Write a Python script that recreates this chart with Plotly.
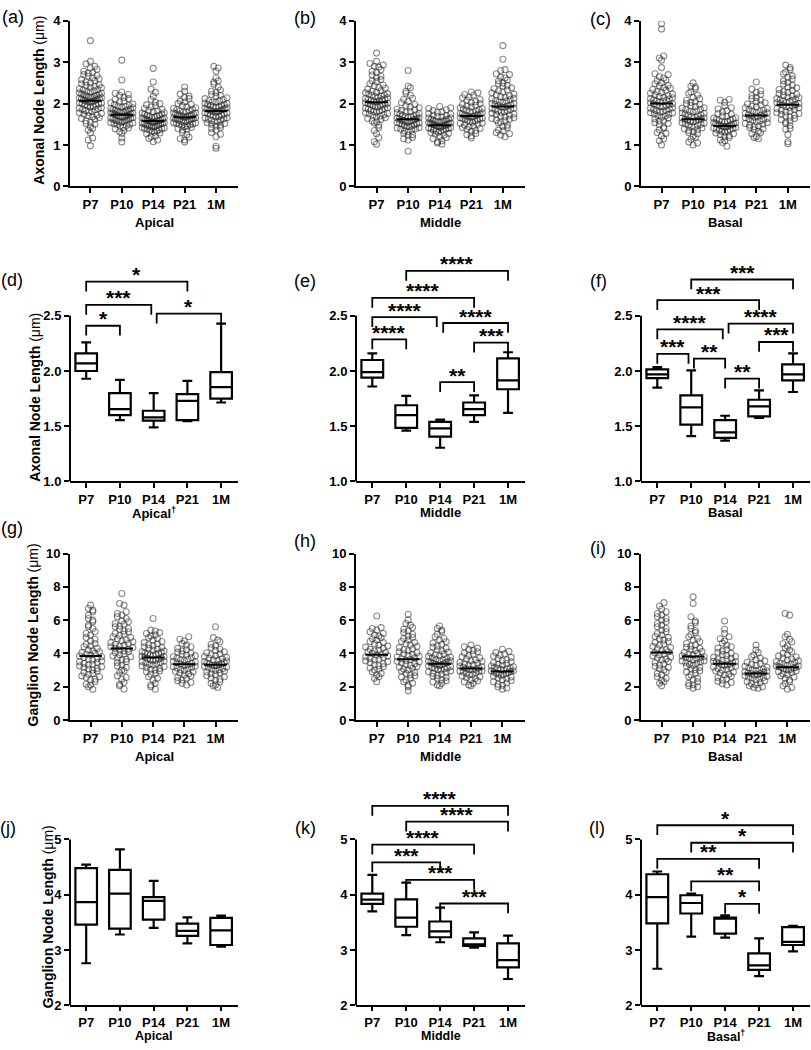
import plotly.graph_objects as go

W, H = 811, 1050
CATS = ["P7", "P10", "P14", "P21", "1M"]

# ---------------- Row 1: axonal node length, individual nodes (um) ----------------
ax_apical = [
    [0.98,1.12,1.17,1.29,1.36,1.44,1.50,1.55,1.58,1.62,1.66,1.68,1.71,1.74,1.76,1.79,1.81,1.83,1.86,1.88,
     1.90,1.92,1.95,1.97,1.99,2.01,2.03,2.04,2.06,2.08,2.09,2.11,2.13,2.15,2.17,2.19,2.21,2.23,2.26,2.28,
     2.31,2.34,2.36,2.39,2.42,2.45,2.48,2.52,2.55,2.58,2.62,2.66,2.70,2.74,2.78,2.83,2.90,2.96,3.02,3.52,
     1.64,1.72,1.78,1.85,1.89,1.93,1.96,2.00,2.02,2.05,2.07,2.10,2.12,2.14,2.16,2.18,2.20,2.22,2.25,2.29,
     2.33,2.38,2.44,2.50,2.60,2.68,2.75,1.40,1.52,2.86],
    [1.07,1.17,1.28,1.35,1.39,1.43,1.46,1.49,1.52,1.54,1.56,1.58,1.60,1.62,1.63,1.65,1.66,1.68,1.69,1.71,
     1.72,1.74,1.75,1.77,1.78,1.80,1.82,1.84,1.86,1.88,1.90,1.93,1.96,1.99,2.02,2.06,2.10,2.15,2.20,2.25,
     2.28,2.57,3.05,
     1.41,1.47,1.50,1.53,1.55,1.57,1.59,1.61,1.64,1.67,1.70,1.73,1.76,1.79,1.81,1.83,1.85,1.87,1.91,1.94,
     1.98,2.04,2.12,1.32,2.22],
    [1.08,1.12,1.16,1.22,1.27,1.31,1.34,1.37,1.40,1.42,1.44,1.46,1.48,1.49,1.51,1.52,1.54,1.55,1.56,1.58,
     1.59,1.60,1.62,1.63,1.65,1.66,1.68,1.70,1.72,1.74,1.77,1.80,1.84,1.88,1.92,1.97,2.03,2.10,2.18,2.27,
     2.35,2.52,2.85,
     1.20,1.29,1.33,1.36,1.39,1.41,1.43,1.45,1.47,1.50,1.53,1.55,1.57,1.59,1.61,1.64,1.67,1.69,1.71,1.75,
     1.78,1.82,1.86,1.95,2.00,1.38,1.51],
    [1.07,1.15,1.19,1.30,1.36,1.40,1.44,1.47,1.50,1.52,1.54,1.56,1.58,1.60,1.61,1.63,1.64,1.66,1.67,1.69,
     1.70,1.72,1.74,1.76,1.78,1.80,1.83,1.86,1.90,1.95,2.00,2.06,2.12,2.18,2.23,2.30,2.40,
     1.25,1.38,1.42,1.46,1.49,1.51,1.53,1.55,1.57,1.59,1.62,1.65,1.68,1.71,1.73,1.75,1.77,1.79,1.82,1.85,
     1.88,1.92,1.98,2.04,2.15,1.12],
    [0.92,0.97,1.20,1.30,1.36,1.42,1.46,1.50,1.54,1.57,1.60,1.63,1.66,1.69,1.72,1.74,1.77,1.79,1.81,1.83,
     1.85,1.87,1.89,1.91,1.93,1.96,1.98,2.01,2.04,2.07,2.10,2.14,2.18,2.22,2.27,2.33,2.40,2.47,2.55,2.62,
     2.78,2.86,2.90,
     1.40,1.48,1.52,1.56,1.59,1.62,1.65,1.68,1.71,1.73,1.76,1.78,1.80,1.82,1.84,1.86,1.88,1.90,1.92,1.95,
     1.97,2.00,2.03,2.06,2.12,2.20,2.30,2.52,1.26],
]
ax_middle = [
    [1.02,1.08,1.18,1.27,1.35,1.42,1.48,1.53,1.58,1.62,1.66,1.70,1.73,1.76,1.79,1.82,1.85,1.88,1.90,1.93,
     1.95,1.98,2.00,2.02,2.05,2.07,2.10,2.12,2.15,2.18,2.21,2.24,2.27,2.31,2.35,2.39,2.43,2.48,2.53,2.58,
     2.63,2.69,2.75,2.82,2.88,2.93,2.97,3.02,3.22,
     1.56,1.64,1.68,1.72,1.75,1.78,1.81,1.84,1.87,1.89,1.92,1.94,1.97,1.99,2.01,2.04,2.06,2.09,2.11,2.14,
     2.17,2.20,2.23,2.26,2.30,2.37,2.45,2.55,2.66,2.78,2.90],
    [0.85,1.12,1.18,1.23,1.28,1.32,1.36,1.39,1.42,1.45,1.47,1.50,1.52,1.54,1.56,1.58,1.60,1.62,1.64,1.66,
     1.68,1.70,1.73,1.76,1.79,1.83,1.87,1.92,1.98,2.05,2.13,2.20,2.30,2.38,2.42,2.80,
     1.25,1.34,1.38,1.41,1.44,1.46,1.49,1.51,1.53,1.55,1.57,1.59,1.61,1.63,1.65,1.67,1.69,1.72,1.75,1.78,
     1.81,1.85,1.90,1.95,2.02,2.10,1.15,2.25],
    [1.02,1.05,1.10,1.15,1.20,1.24,1.28,1.31,1.34,1.37,1.39,1.41,1.43,1.45,1.47,1.48,1.50,1.52,1.53,1.55,
     1.57,1.59,1.61,1.63,1.66,1.69,1.72,1.76,1.80,1.85,1.90,1.93,
     1.08,1.18,1.26,1.30,1.33,1.36,1.38,1.40,1.42,1.44,1.46,1.47,1.49,1.51,1.52,1.54,1.56,1.58,1.60,1.62,
     1.65,1.68,1.71,1.75,1.79,1.83,1.88],
    [1.17,1.22,1.28,1.33,1.38,1.42,1.46,1.50,1.53,1.56,1.59,1.62,1.64,1.66,1.68,1.70,1.72,1.74,1.76,1.79,
     1.82,1.85,1.88,1.92,1.96,2.00,2.05,2.10,2.16,2.22,2.28,
     1.25,1.35,1.40,1.44,1.48,1.52,1.55,1.58,1.61,1.63,1.65,1.67,1.69,1.71,1.73,1.75,1.78,1.81,1.84,1.87,
     1.90,1.94,1.98,2.03,2.08,2.14,2.20,2.26],
    [1.20,1.24,1.30,1.36,1.42,1.48,1.53,1.58,1.62,1.66,1.70,1.74,1.77,1.80,1.83,1.86,1.89,1.92,1.95,1.98,
     2.01,2.04,2.07,2.11,2.15,2.19,2.23,2.28,2.33,2.38,2.44,2.50,2.57,2.64,2.72,2.82,3.07,3.40,
     1.27,1.34,1.45,1.55,1.60,1.64,1.68,1.72,1.75,1.79,1.82,1.85,1.88,1.91,1.94,1.97,2.00,2.03,2.06,2.09,
     2.13,2.17,2.21,2.26,2.31,2.36,2.42,2.48,2.55,2.62,2.70,2.80],
]
ax_basal = [
    [1.00,1.10,1.15,1.22,1.30,1.37,1.43,1.49,1.54,1.59,1.63,1.67,1.71,1.75,1.78,1.81,1.84,1.87,1.90,1.93,
     1.96,1.99,2.02,2.05,2.08,2.11,2.14,2.17,2.21,2.25,2.29,2.34,2.39,2.44,2.50,2.57,2.65,2.72,2.87,3.05,
     3.10,3.15,3.80,3.93,
     1.40,1.52,1.58,1.65,1.70,1.74,1.77,1.80,1.83,1.86,1.89,1.92,1.95,1.98,2.00,2.03,2.06,2.09,2.12,2.15,
     2.19,2.23,2.27,2.32,2.37,2.43,2.48,2.55,2.62,2.70,1.28],
    [1.00,1.07,1.14,1.21,1.27,1.32,1.37,1.41,1.45,1.48,1.51,1.54,1.57,1.60,1.62,1.65,1.67,1.70,1.73,1.76,
     1.79,1.82,1.86,1.90,1.95,2.00,2.05,2.12,2.20,2.28,2.36,2.42,2.50,
     1.05,1.18,1.30,1.35,1.39,1.43,1.47,1.50,1.53,1.56,1.59,1.61,1.63,1.66,1.69,1.72,1.75,1.78,1.81,1.85,
     1.89,1.93,1.98,2.03,2.08,2.15,2.25,2.40],
    [0.97,1.06,1.12,1.18,1.23,1.27,1.31,1.34,1.37,1.40,1.42,1.44,1.46,1.48,1.50,1.52,1.54,1.56,1.59,1.62,
     1.65,1.69,1.74,1.80,1.87,1.95,2.03,2.10,
     1.10,1.20,1.25,1.29,1.33,1.36,1.38,1.41,1.43,1.45,1.47,1.49,1.51,1.53,1.55,1.57,1.60,1.63,1.66,1.70,
     1.76,1.83,1.90,2.08],
    [1.15,1.20,1.27,1.33,1.39,1.44,1.48,1.52,1.56,1.60,1.63,1.66,1.69,1.72,1.75,1.78,1.81,1.84,1.88,1.92,
     1.97,2.02,2.08,2.15,2.22,2.31,2.52,
     1.18,1.30,1.37,1.42,1.46,1.50,1.54,1.58,1.61,1.64,1.67,1.70,1.73,1.76,1.79,1.82,1.86,1.90,1.94,1.99,
     2.05,2.12,2.19,2.27,2.35],
    [1.03,1.08,1.25,1.38,1.47,1.55,1.61,1.67,1.72,1.76,1.80,1.84,1.88,1.91,1.94,1.97,2.00,2.03,2.06,2.09,
     2.12,2.16,2.20,2.24,2.29,2.34,2.40,2.47,2.55,2.63,2.72,2.82,2.93,
     1.40,1.52,1.58,1.64,1.70,1.74,1.78,1.82,1.86,1.90,1.93,1.96,1.99,2.02,2.05,2.08,2.11,2.14,2.18,2.22,
     2.27,2.32,2.38,2.44,2.51,2.59,2.67,2.76,2.87],
]
ax_apical_mean = [2.07, 1.73, 1.58, 1.67, 1.82]
ax_middle_mean = [2.03, 1.62, 1.48, 1.70, 1.93]
ax_basal_mean = [2.00, 1.62, 1.46, 1.71, 1.97]

# ---------------- Row 3: ganglion node length, individual nodes (um) ----------------
gn_apical = [
    [1.85,2.00,2.15,2.30,2.45,2.55,2.65,2.75,2.85,2.95,3.05,3.15,3.25,3.35,3.45,3.55,3.65,3.75,3.85,3.95,
     4.05,4.15,4.30,4.45,4.60,4.75,4.95,5.10,5.30,5.50,5.70,5.90,6.10,6.30,6.50,6.70,6.90,
     2.10,2.40,2.60,2.80,3.00,3.10,3.20,3.30,3.40,3.50,3.60,3.70,3.80,3.90,4.00,4.10,4.20,4.40,4.55,4.85,
     5.20,5.60,6.00,6.60],
    [1.85,2.05,2.25,2.45,2.65,2.85,3.00,3.15,3.30,3.45,3.60,3.72,3.85,3.97,4.10,4.20,4.30,4.40,4.50,4.60,
     4.70,4.82,4.95,5.08,5.20,5.35,5.50,5.65,5.80,5.95,6.10,6.30,6.50,6.90,7.00,7.60,
     2.15,2.55,2.95,3.25,3.50,3.65,3.80,3.92,4.05,4.15,4.25,4.35,4.45,4.55,4.65,4.75,4.88,5.00,5.15,5.30,
     5.45,5.60,5.75,5.90,6.20,6.40],
    [1.85,2.00,2.20,2.40,2.60,2.75,2.90,3.00,3.10,3.20,3.30,3.38,3.46,3.54,3.62,3.70,3.78,3.86,3.94,4.02,
     4.10,4.20,4.30,4.40,4.52,4.65,4.80,4.95,5.10,5.25,5.40,6.10,
     2.10,2.50,2.80,2.95,3.05,3.15,3.25,3.34,3.42,3.50,3.58,3.66,3.74,3.82,3.90,3.98,4.06,4.14,4.25,4.35,
     4.46,4.58,4.72,4.88,5.05,5.20,5.35,3.60,3.80,4.00],
    [2.10,2.25,2.40,2.55,2.70,2.82,2.93,3.03,3.12,3.20,3.28,3.36,3.44,3.52,3.60,3.70,3.80,3.90,4.02,4.15,
     4.30,4.50,4.75,5.00,
     2.20,2.35,2.50,2.65,2.78,2.88,2.98,3.08,3.16,3.24,3.32,3.40,3.48,3.56,3.65,3.75,3.85,3.96,4.08,4.22,
     4.40,4.60,4.85],
    [1.95,2.10,2.30,2.45,2.60,2.72,2.83,2.93,3.02,3.10,3.18,3.26,3.34,3.42,3.50,3.58,3.67,3.76,3.86,3.97,
     4.10,4.25,4.45,4.70,4.95,5.60,
     2.05,2.20,2.38,2.52,2.66,2.78,2.88,2.98,3.06,3.14,3.22,3.30,3.38,3.46,3.54,3.62,3.71,3.81,3.92,4.04,
     4.18,4.35,4.55,4.80,3.28,3.36],
]
gn_middle = [
    [2.30,2.50,2.70,2.90,3.05,3.20,3.32,3.44,3.55,3.65,3.75,3.85,3.95,4.05,4.15,4.25,4.38,4.50,4.65,4.80,
     4.95,5.10,5.30,5.50,5.55,6.25,
     2.60,2.80,3.00,3.12,3.26,3.38,3.50,3.60,3.70,3.80,3.90,4.00,4.10,4.20,4.32,4.44,4.58,4.72,4.88,5.05,
     5.20,5.40],
    [1.75,2.10,2.30,2.50,2.65,2.80,2.93,3.05,3.17,3.28,3.38,3.48,3.58,3.68,3.78,3.88,3.98,4.10,4.22,4.35,
     4.50,4.65,4.80,4.97,5.15,5.35,5.55,5.80,6.00,6.35,
     2.00,2.20,2.40,2.58,2.72,2.86,3.00,3.11,3.22,3.33,3.43,3.53,3.63,3.73,3.83,3.93,4.04,4.16,4.28,4.42,
     4.58,4.72,4.90,5.05,5.25,5.45,5.70],
    [2.05,2.20,2.35,2.50,2.62,2.74,2.85,2.95,3.04,3.12,3.20,3.28,3.35,3.42,3.50,3.57,3.65,3.73,3.82,3.92,
     4.03,4.15,4.30,4.45,4.62,4.80,5.00,5.30,5.50,5.65,
     2.10,2.28,2.42,2.56,2.68,2.80,2.90,3.00,3.08,3.16,3.24,3.31,3.38,3.46,3.53,3.61,3.69,3.77,3.86,3.96,
     4.08,4.22,4.38,4.55,4.70,4.90,5.15,5.40,3.10,3.30,3.45,3.55],
    [2.05,2.20,2.35,2.48,2.60,2.70,2.80,2.88,2.96,3.04,3.12,3.20,3.28,3.37,3.46,3.56,3.67,3.80,3.95,4.10,
     4.25,4.40,4.50,
     2.10,2.28,2.42,2.54,2.65,2.75,2.84,2.92,3.00,3.08,3.16,3.24,3.32,3.41,3.51,3.61,3.73,3.87,4.02,4.18,
     4.32,2.95,3.05],
    [1.85,2.00,2.15,2.30,2.42,2.53,2.63,2.72,2.80,2.88,2.96,3.04,3.12,3.20,3.29,3.39,3.50,3.62,3.76,3.90,
     4.05,4.25,
     1.92,2.08,2.22,2.36,2.48,2.58,2.68,2.76,2.84,2.92,3.00,3.08,3.16,3.24,3.34,3.44,3.56,3.69,3.83,3.97,
     4.12,2.80,2.95,3.10],
]
gn_basal = [
    [2.05,2.20,2.40,2.60,2.80,3.00,3.15,3.30,3.45,3.60,3.72,3.85,3.97,4.10,4.22,4.35,4.50,4.65,4.80,4.95,
     5.10,5.30,5.50,5.70,5.90,6.10,6.30,6.50,6.85,7.05,
     2.30,2.50,2.70,2.90,3.08,3.22,3.38,3.52,3.66,3.78,3.91,4.03,4.16,4.28,4.42,4.57,4.72,4.88,5.02,5.20,
     5.40,5.60,5.80,6.00,6.20,6.40,6.65],
    [1.90,2.05,2.20,2.40,2.60,2.80,2.95,3.10,3.22,3.34,3.45,3.55,3.65,3.75,3.85,3.95,4.05,4.17,4.30,4.45,
     4.60,4.80,5.00,5.25,5.50,5.85,6.20,7.00,7.40,
     2.00,2.12,2.30,2.50,2.70,2.88,3.02,3.16,3.28,3.40,3.50,3.60,3.70,3.80,3.90,4.00,4.11,4.23,4.37,4.52,
     4.70,4.90,5.12,5.38,5.65,5.95,3.55,3.75],
    [2.10,2.25,2.40,2.55,2.70,2.82,2.94,3.04,3.14,3.23,3.32,3.40,3.48,3.57,3.66,3.76,3.87,4.00,4.15,4.32,
     4.50,4.75,5.00,5.45,5.95,
     2.18,2.32,2.48,2.62,2.76,2.88,2.99,3.09,3.19,3.28,3.36,3.44,3.53,3.62,3.71,3.81,3.93,4.07,4.23,4.40,
     4.62,4.88,5.20,3.30,3.50],
    [1.90,2.00,2.12,2.24,2.36,2.47,2.57,2.66,2.74,2.82,2.90,2.98,3.07,3.17,3.28,3.40,3.55,3.70,3.90,4.20,
     4.50,
     1.95,2.06,2.18,2.30,2.42,2.52,2.62,2.70,2.78,2.86,2.94,3.02,3.12,3.22,3.34,3.47,3.62,3.80,4.05,2.55,
     2.80,3.00],
    [1.85,2.05,2.30,2.50,2.65,2.78,2.90,3.00,3.08,3.16,3.24,3.32,3.40,3.50,3.60,3.72,3.85,4.00,4.20,4.45,
     4.70,5.00,5.15,6.30,6.40,
     1.95,2.20,2.40,2.58,2.72,2.84,2.95,3.04,3.12,3.20,3.28,3.36,3.45,3.55,3.66,3.78,3.92,4.10,4.32,4.58,
     4.85,3.05,3.15,3.25],
]
gn_apical_mean = [3.85, 4.30, 3.75, 3.35, 3.32]
gn_middle_mean = [3.92, 3.65, 3.38, 3.10, 2.92]
gn_basal_mean = [4.05, 3.82, 3.38, 2.80, 3.17]

# ---------------- Box statistics per age: (min, q1, median, q3, max) ----------------
box_ax_apical = [(1.93, 2.00, 2.07, 2.16, 2.26), (1.555, 1.60, 1.655, 1.80, 1.92),
                 (1.49, 1.55, 1.58, 1.64, 1.80), (1.545, 1.555, 1.73, 1.79, 1.91),
                 (1.715, 1.75, 1.855, 1.99, 2.43)]
box_ax_middle = [(1.86, 1.94, 1.99, 2.10, 2.16), (1.46, 1.485, 1.60, 1.69, 1.775),
                 (1.305, 1.405, 1.48, 1.54, 1.56), (1.54, 1.60, 1.655, 1.715, 1.78),
                 (1.62, 1.835, 1.915, 2.115, 2.17)]
box_ax_basal = [(1.85, 1.935, 1.97, 2.015, 2.035), (1.41, 1.515, 1.67, 1.78, 2.005),
                (1.37, 1.395, 1.445, 1.555, 1.595), (1.575, 1.59, 1.68, 1.74, 1.825),
                (1.81, 1.915, 1.97, 2.06, 2.16)]
box_gn_apical = [(2.76, 3.46, 3.865, 4.48, 4.545), (3.28, 3.385, 4.02, 4.45, 4.82),
                 (3.40, 3.55, 3.89, 3.955, 4.25), (3.12, 3.255, 3.345, 3.475, 3.59),
                 (3.06, 3.09, 3.355, 3.58, 3.62)]
box_gn_middle = [(3.70, 3.835, 3.91, 4.02, 4.36), (3.27, 3.42, 3.585, 3.915, 4.22),
                 (3.14, 3.23, 3.335, 3.515, 3.765), (3.04, 3.075, 3.10, 3.21, 3.32),
                 (2.475, 2.685, 2.815, 3.12, 3.26)]
box_gn_basal = [(2.66, 3.48, 3.955, 4.37, 4.42), (3.24, 3.66, 3.85, 3.99, 4.02),
                (3.225, 3.295, 3.57, 3.585, 3.625), (2.525, 2.64, 2.72, 2.94, 3.21),
                (2.975, 3.09, 3.145, 3.415, 3.435)]

# ---------------- Significance brackets: (from, to, height, label) ----------------
sig_ax_apical = [(0, 3, 2.81, "*"), (0, 1.93, 2.60, "***"), (0, 1, 2.41, "*"), (2.09, 4, 2.52, "*")]
sig_ax_middle = [(1, 4, 2.908, "****"), (0, 3, 2.663, "****"), (0, 1.90, 2.488, "****"),
                 (2.09, 4, 2.435, "****"), (3, 4, 2.257, "***"), (0, 1, 2.287, "****"),
                 (2, 3, 1.90, "**")]
sig_ax_basal = [(1, 4, 2.829, "***"), (0, 3, 2.642, "***"), (0, 1.93, 2.378, "****"),
                (2.10, 4, 2.429, "****"), (3, 4, 2.263, "***"), (0, 0.92, 2.156, "***"),
                (1.08, 2, 2.112, "**"), (2, 3, 1.931, "**")]
sig_gn_apical = []
sig_gn_middle = [(0, 4, 5.606, "****"), (1, 4, 5.321, "****"), (0, 3, 4.905, "****"),
                 (0, 2, 4.584, "***"), (1, 3, 4.269, "***"), (2, 4, 3.841, "***")]
sig_gn_basal = [(0, 4, 5.257, "*"), (1, 4, 4.94, "*"), (0, 3, 4.647, "**"),
                (1, 3, 4.241, "**"), (2, 3, 3.834, "*")]

# ---------------- Text ----------------
panel_letters = ["(a)", "(b)", "(c)", "(d)", "(e)", "(f)", "(g)", "(h)", "(i)", "(j)", "(k)", "(l)"]
x_titles = [["Apical", "Middle", "Basal"],
            ["Apical<sup>†</sup>", "Middle", "Basal"],
            ["Apical", "Middle", "Basal"],
            ["Apical", "Middle", "Basal<sup>†</sup>"]]
y_titles = ["Axonal Node Length", "Axonal Node Length",
            "Ganglion Node Length", "Ganglion Node Length"]
unit_text = "(μm)"

# ================= layout geometry (pixels) =================
FONT = "Liberation Sans, Arial, Helvetica, sans-serif"
COLS = [(70, 238), (356, 525), (641, 810)]
ROWS = [
    dict(top=14, bot=182, rng=[0, 4], tv=[0, 1, 2, 3, 4], fmt="d", xr=[-0.65, 4.7], axtop=None, tl=5),
    dict(top=240, bot=481.3, rng=[1.0, 1.0 + (481.3 - 240) / 112.0], tv=[1.0, 1.5, 2.0, 2.5],
         fmt=".1f", xr=[-0.48, 4.5], axtop=2.5, tl=5),
    dict(top=554.5, bot=723.3, rng=[0, 10], tv=[0, 2, 4, 6, 8, 10], fmt="d", xr=[-0.66, 4.72],
         axtop=None, tl=5),
    dict(top=785, bot=1012.7, rng=[2, 2 + (1012.7 - 785) / 56.07], tv=[2, 3, 4, 5], fmt="d",
         xr=[-0.48, 4.5], axtop=5, tl=4),
]
XT_Y = [219, 513, 760, 1043.5]
XT_SIZE = [13, 13, 13, 12.5]
YT_POS = [(39, 95), (35, 396.5), (33, 637.5), (48, 923.5)]
LETTER_POS = [(12.5, 10), (305, 11), (600, 12), (11.7, 277), (305, 278), (598, 278),
              (12, 529), (305, 542), (598, 549), (8, 833), (305, 833), (597, 833)]


def fx(p):
    return p / W


def fy(p):
    return 1 - p / H


def swarm(vals, center, ppu, ppc, bin_px=5.0, sep_px=4.4, half_px=11.0):
    bins = {}
    for v in sorted(vals):
        bins.setdefault(int(v * ppu // bin_px), []).append(v)
    xs, ys = [], []
    for bi, (b, items) in enumerate(sorted(bins.items())):
        n = len(items)
        step = sep_px if n < 2 else min(sep_px, 2 * half_px / (n - 1))
        slots = [(i - (n - 1) / 2) * step for i in range(n)]
        order = sorted(range(n), key=lambda i: (abs(slots[i]), i if bi % 2 else -i))
        for v, si in zip(items, order):
            xs.append(center + slots[si] / ppc)
            ys.append(v)
    return xs, ys


scatter_rows = {0: ([ax_apical, ax_middle, ax_basal], [ax_apical_mean, ax_middle_mean, ax_basal_mean]),
                2: ([gn_apical, gn_middle, gn_basal], [gn_apical_mean, gn_middle_mean, gn_basal_mean])}
box_rows = {1: ([box_ax_apical, box_ax_middle, box_ax_basal], [sig_ax_apical, sig_ax_middle, sig_ax_basal]),
            3: ([box_gn_apical, box_gn_middle, box_gn_basal], [sig_gn_apical, sig_gn_middle, sig_gn_basal])}

fig = go.Figure()
layout = dict(width=W, height=H, margin=dict(l=0, r=0, t=0, b=0), paper_bgcolor="white",
              plot_bgcolor="white", showlegend=False, font=dict(family=FONT, color="black"))
shapes, annotations = [], []
tickfont = dict(family=FONT, size=13, color="black", weight="bold")

for r, R in enumerate(ROWS):
    ppu = (R["bot"] - R["top"]) / (R["rng"][1] - R["rng"][0])
    for c, (cl, cr) in enumerate(COLS):
        k = r * 3 + c + 1
        sid = "" if k == 1 else str(k)
        xa, ya = "x" + sid, "y" + sid
        ppc = (cr - cl) / (R["xr"][1] - R["xr"][0])
        layout["xaxis" + sid] = dict(
            domain=[fx(cl), fx(cr)], anchor=ya, range=R["xr"], tickmode="array",
            tickvals=list(range(5)), ticktext=CATS, showgrid=False, zeroline=False,
            showline=True, linecolor="black", linewidth=2, ticks="outside", ticklen=R["tl"],
            tickwidth=2, tickcolor="black", tickfont=tickfont, fixedrange=True)
        layout["yaxis" + sid] = dict(
            domain=[fy(R["bot"]), fy(R["top"])], anchor=xa, range=R["rng"], tickmode="array",
            tickvals=R["tv"], tickformat=R["fmt"], showgrid=False, zeroline=False,
            showline=R["axtop"] is None, linecolor="black", linewidth=2, ticks="outside",
            ticklen=5, tickwidth=2, tickcolor="black", tickfont=tickfont, fixedrange=True)

        if r in scatter_rows:
            groups = scatter_rows[r][0][c]
            means = scatter_rows[r][1][c]
            X, Y = [], []
            for i, g in enumerate(groups):
                gx, gy = swarm(g, i, ppu, ppc)
                X += gx
                Y += gy
            fig.add_trace(go.Scatter(
                x=X, y=Y, mode="markers", xaxis=xa, yaxis=ya, hoverinfo="skip",
                marker=dict(symbol="circle-open", size=6, color="rgba(45,45,45,0.55)",
                            line=dict(width=1.1, color="rgba(45,45,45,0.55)"))))
            mx, my = [], []
            for i, m in enumerate(means):
                mx += [i - 0.36, i + 0.36, None]
                my += [m, m, None]
            fig.add_trace(go.Scatter(x=mx, y=my, mode="lines", xaxis=xa, yaxis=ya,
                                     line=dict(color="black", width=2), hoverinfo="skip"))
        else:
            stats = box_rows[r][0][c]
            sigs = box_rows[r][1][c]
            fig.add_trace(go.Box(
                x=list(range(5)), orientation="v",
                lowerfence=[s[0] for s in stats], q1=[s[1] for s in stats],
                median=[s[2] for s in stats], q3=[s[3] for s in stats],
                upperfence=[s[4] for s in stats], boxpoints=False, width=0.64,
                whiskerwidth=0.45, fillcolor="white", line=dict(color="black", width=2.2),
                xaxis=xa, yaxis=ya, hoverinfo="skip"))
            # y axis line only up to the top tick
            shapes.append(dict(type="line", xref=xa + " domain", yref=ya, x0=0, x1=0,
                               y0=R["rng"][0], y1=R["axtop"], line=dict(color="black", width=2)))
            leg = 10.0 / ppu
            for (a, b, h, lab) in sigs:
                shapes.append(dict(type="path", xref=xa, yref=ya,
                                   path=f"M {a},{h - leg} L {a},{h} L {b},{h} L {b},{h - leg}",
                                   line=dict(color="black", width=1.8)))
                annotations.append(dict(x=(a + b) / 2, y=h, xref=xa, yref=ya, text=lab,
                                        showarrow=False, yanchor="bottom", xanchor="center",
                                        yshift=-6.5,
                                        font=dict(family=FONT, size=21, color="black", weight="bold")))

        # x title
        annotations.append(dict(x=fx((cl + cr) / 2), y=fy(XT_Y[r]), xref="paper", yref="paper",
                                text=x_titles[r][c], showarrow=False, xanchor="center", yanchor="middle",
                                font=dict(family=FONT, size=XT_SIZE[r], color="black", weight="bold")))
        # panel letter
        lx, ly = LETTER_POS[k - 1]
        annotations.append(dict(x=fx(lx), y=fy(ly), xref="paper", yref="paper",
                                text=panel_letters[k - 1], showarrow=False, xanchor="center",
                                yanchor="middle", font=dict(family=FONT, size=18, color="black")))
    # y title (first column only)
    tx, ty = YT_POS[r]
    annotations.append(dict(x=fx(tx), y=fy(ty), xref="paper", yref="paper", textangle=-90,
                            text=y_titles[r] + ' <span style="font-weight:normal">' + unit_text + "</span>",
                            showarrow=False, xanchor="center", yanchor="middle",
                            font=dict(family=FONT, size=14, color="black", weight="bold")))

layout["shapes"] = shapes
layout["annotations"] = annotations
fig.update_layout(**layout)
fig.write_html("out.html", config={"displayModeBar": False},
               post_script="document.body.style.margin='0';document.body.style.overflow='hidden';")
